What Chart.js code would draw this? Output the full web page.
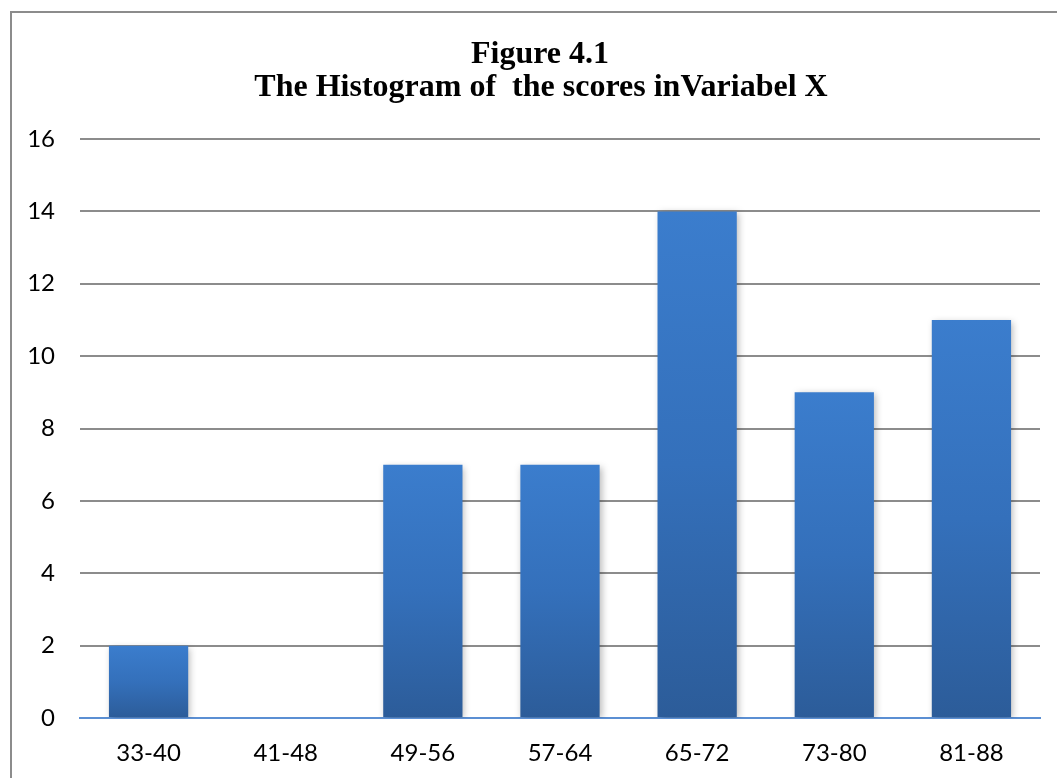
<!DOCTYPE html>
<html>
<head>
<meta charset="utf-8">
<script src="https://cdn.jsdelivr.net/npm/chart.js@4.4.1/dist/chart.umd.min.js"></script>
<style>
  html, body { margin: 0; padding: 0; background: #ffffff; }
  #wrap { position: absolute; left: 0; top: 0; width: 1057px; height: 778px; }
</style>
</head>
<body>
<div id="wrap"><canvas id="c" width="1057" height="778"></canvas></div>
<script>
const titleLines = ["Figure 4.1", "The Histogram of  the scores inVariabel X"];
const categories = ["33-40", "41-48", "49-56", "57-64", "65-72", "73-80", "81-88"];
const frequencies = [2, 0, 7, 7, 14, 9, 11];
const yTicks = [0, 2, 4, 6, 8, 10, 12, 14, 16];

const framePlugin = {
  id: 'frame',
  beforeDraw(chart) {
    const ctx = chart.ctx;
    ctx.save();
    ctx.strokeStyle = '#8c8c8c';
    ctx.lineWidth = 2;
    ctx.beginPath();
    ctx.moveTo(11, 778);
    ctx.lineTo(11, 12);
    ctx.lineTo(1057, 12);
    ctx.stroke();
    ctx.fillStyle = '#000';
    ctx.textAlign = 'center';
    ctx.textBaseline = 'alphabetic';
    ctx.font = 'bold 32px "Liberation Serif", "Times New Roman", serif';
    ctx.fillText(titleLines[0], 540, 63);
    ctx.fillText(titleLines[1], 541, 96);
    ctx.restore();
  }
};

const shadowPlugin = {
  id: 'barShadow',
  beforeDatasetsDraw(chart) {
    const ctx = chart.ctx;
    ctx.save();
    ctx.shadowColor = 'rgba(0,0,0,0.28)';
    ctx.shadowBlur = 7;
    ctx.shadowOffsetX = 2;
    ctx.shadowOffsetY = 2;
  },
  afterDatasetsDraw(chart) {
    chart.ctx.restore();
  }
};

function barGradient(context) {
  const chart = context.chart;
  const area = chart.chartArea;
  if (!area || context.type !== 'data') return '#3a7bcb';
  const y = chart.scales.y;
  const v = context.raw;
  const top = y.getPixelForValue(v);
  const bottom = y.getPixelForValue(0);
  if (!isFinite(top) || bottom - top < 1) return '#3a7bcb';
  const g = chart.ctx.createLinearGradient(0, top, 0, bottom);
  g.addColorStop(0, '#3b7dcd');
  g.addColorStop(0.5, '#3470bb');
  g.addColorStop(1, '#2c5c99');
  return g;
}

new Chart(document.getElementById('c'), {
  type: 'bar',
  data: {
    labels: categories,
    datasets: [{
      data: frequencies,
      backgroundColor: barGradient,
      borderWidth: 0,
      categoryPercentage: 1.0,
      barPercentage: 0.578
    }]
  },
  plugins: [framePlugin, shadowPlugin],
  options: {
    responsive: false,
    animation: false,
    devicePixelRatio: 1,
    layout: { padding: { left: 12, right: 17, top: 139, bottom: 0 } },
    plugins: {
      legend: { display: false },
      title: { display: false },
      tooltip: { enabled: false }
    },
    scales: {
      x: {
        grid: { display: false, drawTicks: false },
        border: { display: true, color: '#5b8fd3', width: 2 },
        ticks: {
          color: '#000',
          padding: 21,
          font: { family: 'Lato, "Open Sans", sans-serif', size: 24 }
        },
        afterFit(scale) { scale.height = 60; }
      },
      y: {
        min: 0,
        max: 16,
        afterBuildTicks(scale) { scale.ticks = yTicks.map(v => ({ value: v })); },
        grid: {
          drawTicks: false,
          color: (ctx) => ctx.tick && ctx.tick.value === 0 ? '#5b8fd3' : '#8c8c8c',
          lineWidth: 2
        },
        border: { display: false },
        ticks: {
          color: '#000',
          padding: 25,
          font: { family: 'Lato, "Open Sans", sans-serif', size: 24 }
        },
        afterFit(scale) { scale.width = 68; }
      }
    }
  }
});
</script>
</body>
</html>
